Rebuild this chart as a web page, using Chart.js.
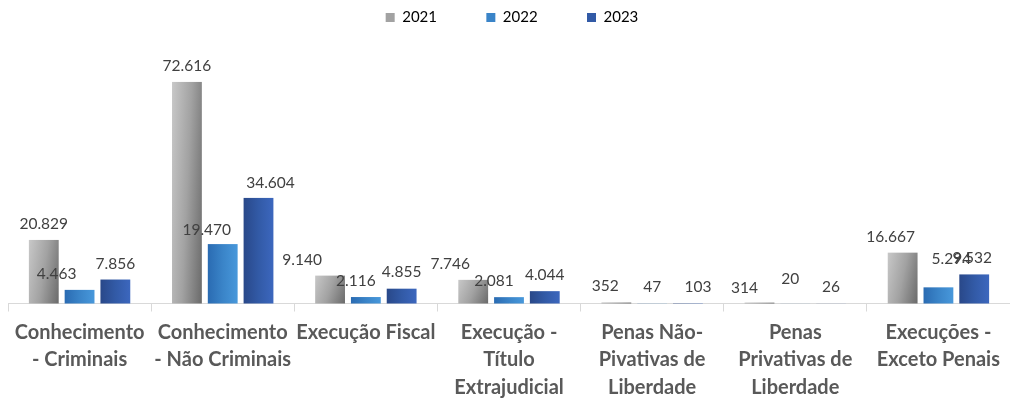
<!DOCTYPE html>
<html>
<head>
<meta charset="utf-8">
<script src="https://cdn.jsdelivr.net/npm/chart.js@4/dist/chart.umd.min.js"></script>
<style>
  html, body { margin: 0; padding: 0; background: #ffffff; }
  #wrap { width: 1010px; height: 398px; }
</style>
</head>
<body>
<div id="wrap"><canvas id="chart"></canvas></div>
<script>
// Category labels, already broken into lines
const categories = [
  ['Conhecimento', '- Criminais'],
  ['Conhecimento', '- Não Criminais'],
  ['Execução Fiscal'],
  ['Execução -', 'Título', 'Extrajudicial'],
  ['Penas Não-', 'Pivativas de', 'Liberdade'],
  ['Penas', 'Privativas de', 'Liberdade'],
  ['Execuções -', 'Exceto Penais']
];

const seriesNames = ['2021', '2022', '2023'];

const values2021 = [20829, 72616, 9140, 7746, 352, 314, 16667];
const values2022 = [4463, 19470, 2116, 2081, 47, 20, 5294];
const values2023 = [7856, 34604, 4855, 4044, 103, 26, 9532];

// Hand-placed nudges [dx, dy] for value labels that sit off-centre
const labelNudge2021 = [[0, 0], [0, 0], [-28, 0], [-23, 0], [-11, 0], [-15, 1], [-12, 0]];
const labelNudge2022 = [[-23, 0], [-16, 2], [-10, 0], [-15, 0], [0, 0], [-5, -8], [13, -12]];
const labelNudge2023 = [[0, 0], [12, 1], [0, -1], [0, 0], [10, 0], [0, 0], [-2, 0]];

const FONT = 'Lato, "Open Sans", sans-serif';

function fmt(v) {
  return String(v).replace(/\B(?=(\d{3})+(?!\d))/g, '.');
}

// Gradient fills for the three series
const fills = [
  { stops: ['#c8c8c8', '#a2a2a2', '#6a6a6a'], tilt: 0.35 },
  { stops: ['#2a6bb2', '#3a84c8', '#4898db'], tilt: 0 },
  { stops: ['#294889', '#325aa6', '#3c67be'], tilt: 0 }
];

const gradientBars = {
  id: 'gradientBars',
  beforeDatasetDraw(chart, args) {
    const ctx = chart.ctx;
    const spec = fills[args.index];
    ctx.save();
    args.meta.data.forEach(el => {
      const p = el.getProps(['x', 'y', 'base', 'width'], true);
      const w = p.width;
      const top = Math.min(p.y, p.base);
      const h = Math.abs(p.base - p.y);
      if (h <= 0) return;
      const left = p.x - w / 2;
      let g;
      if (spec.tilt > 0) {
        const k = spec.tilt;
        const t = (1 + k) / (1 / (w * w) + (k * k) / (h * h));
        g = ctx.createLinearGradient(left, top, left + t / w, top + t * k / h);
      } else {
        g = ctx.createLinearGradient(left, 0, left + w, 0);
      }
      spec.stops.forEach((c, i) => g.addColorStop(i / (spec.stops.length - 1), c));
      ctx.fillStyle = g;
      ctx.fillRect(left, top, w, h);
    });
    ctx.restore();
    return false;
  }
};

const nudges = [labelNudge2021, labelNudge2022, labelNudge2023];

const valueLabels = {
  id: 'valueLabels',
  afterDatasetsDraw(chart) {
    const ctx = chart.ctx;
    ctx.save();
    ctx.font = '15.5px ' + FONT;
    ctx.fillStyle = '#404040';
    ctx.textAlign = 'center';
    ctx.textBaseline = 'middle';
    chart.data.datasets.forEach((ds, di) => {
      const meta = chart.getDatasetMeta(di);
      meta.data.forEach((el, i) => {
        const p = el.getProps(['x', 'y'], true);
        const n = nudges[di][i];
        ctx.fillText(fmt(ds.data[i]), p.x + n[0], p.y - 16 + n[1]);
      });
    });
    ctx.restore();
  }
};

const seriesValues = [values2021, values2022, values2023];
// invisible spacing after each legend entry except the last
const LEGEND_GAP = '\u2003\u2003\u2002\u2002\u2009';

new Chart(document.getElementById('chart'), {
  type: 'bar',
  data: {
    labels: categories,
    datasets: seriesNames.map((name, i) => ({
      label: name,
      data: seriesValues[i],
      backgroundColor: fills[i].stops[1],
      borderWidth: 0,
      categoryPercentage: 0.75,
      barPercentage: 0.8333
    }))
  },
  options: {
    responsive: true,
    maintainAspectRatio: false,
    animation: false,
    layout: { padding: { left: 8, right: -6, top: 0, bottom: 0 } },
    plugins: {
      tooltip: { enabled: false },
      legend: {
        position: 'top',
        align: 'center',
        labels: {
          boxWidth: 9,
          boxHeight: 9,
          padding: 10,
          color: '#595959',
          font: { family: FONT, size: 15 },
          generateLabels(chart) {
            const n = chart.data.datasets.length;
            return chart.data.datasets.map((ds, i) => ({
              text: ds.label + (i < n - 1 ? LEGEND_GAP : ''),
              fillStyle: fills[i].stops[1],
              strokeStyle: 'rgba(0,0,0,0)',
              lineWidth: 0,
              datasetIndex: i,
              hidden: false
            }));
          }
        }
      }
    },
    scales: {
      x: {
        offset: true,
        border: { display: true, color: '#d9d9d9', width: 1 },
        grid: {
          offset: true,
          drawOnChartArea: false,
          drawTicks: true,
          tickLength: 8,
          color: '#d9d9d9'
        },
        ticks: {
          color: '#595959',
          padding: 7,
          maxRotation: 0,
          autoSkip: false,
          font: { family: FONT, size: 20, weight: 'bold', lineHeight: 1.375 }
        },
        afterFit(scale) { scale.height = 94.5; }
      },
      y: {
        display: false,
        min: 0,
        max: 88000
      }
    }
  },
  plugins: [gradientBars, valueLabels]
});
</script>
</body>
</html>
